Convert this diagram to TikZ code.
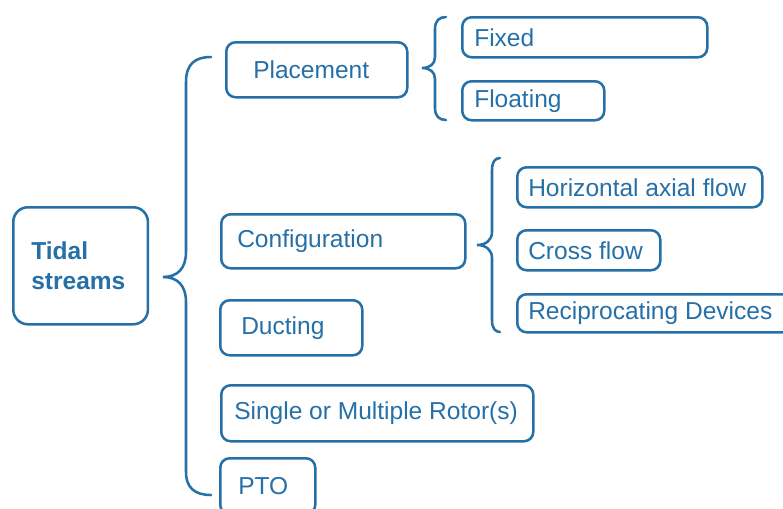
\documentclass[tikz,border=0pt]{standalone}
\usepackage{fontspec}
\setmainfont{Liberation Sans}
\definecolor{tideblue}{RGB}{38,112,168}
% one-line label of fixed width, set flush left
\newcommand{\boxtext}[2]{\makebox[#1][l]{#2}}
\begin{document}
\begin{tikzpicture}[x=0.75pt,y=-0.75pt,
  box/.style={draw=tideblue, line width=1.9pt, rounded corners=7pt,
    text=tideblue, anchor=north west, inner ysep=0pt,
    font=\fontsize{18.4}{22.5}\selectfont},
  brace/.style={draw=tideblue, line width=1.9pt, line cap=round}]
\clip (0,0) rectangle (783,508);
\fill[white] (0,0) rectangle (783,508);

% root
\node[box, rounded corners=11pt, align=left, font=\bfseries\fontsize{18.4}{22.5}\selectfont,
  inner xsep=13.5pt, text width=74pt, minimum height=87.75pt] (tidal) at (12,206) {Tidal\\streams};

% first level
\node[box, inner xsep=20.25pt, minimum height=41.25pt] (place) at (225,41) {\boxtext{95.25pt}{Placement}};
\node[box, inner xsep=12pt, minimum height=40.5pt] (config) at (220,213) {\boxtext{159pt}{Configuration}};
\node[box, inner xsep=15.75pt, minimum height=41.25pt] (duct) at (219,299) {\boxtext{75pt}{Ducting}};
\node[box, inner xsep=9.75pt, minimum height=42pt] (rotor) at (220,384) {\boxtext{214.5pt}{Single or Multiple Rotor(s)}};
\node[box, inner xsep=13.5pt, minimum height=42pt] (pto) at (219,457) {\boxtext{44.25pt}{PTO}};

% placement options
\node[box, inner xsep=9pt, minimum height=30pt] (fixed) at (461,16) {\boxtext{165.75pt}{Fixed}};
\node[box, inner xsep=9pt, minimum height=29.25pt] (float) at (461,80) {\boxtext{88.5pt}{Floating}};

% configuration options
\node[box, inner xsep=8.25pt, minimum height=30pt] (hax) at (516,166) {\boxtext{167.25pt}{Horizontal axial flow}};
\node[box, inner xsep=8.25pt, minimum height=30pt] (cross) at (516,229) {\boxtext{90.75pt}{Cross flow}};
\node[box, inner xsep=8.25pt, minimum height=28.5pt] (recip) at (516,293) {\boxtext{195pt}{Reciprocating Devices}};

% braces
\draw[brace] (211,57) .. controls (195,57) and (186,64) .. (186,82)
  -- (186,252) .. controls (186,268) and (178,277) .. (163,277)
  .. controls (178,277) and (186,286) .. (186,302)
  -- (186,472) .. controls (186,488) and (195,495) .. (211,495);
\draw[brace] (446,17) .. controls (439,17) and (435,21) .. (435,29)
  -- (435,57) .. controls (435,64) and (430,68) .. (422,68)
  .. controls (430,68) and (435,72) .. (435,79)
  -- (435,108) .. controls (435,116) and (439,120) .. (446,120);
\draw[brace] (500,158) .. controls (495,158) and (492,162) .. (492,170)
  -- (492,232) .. controls (492,240) and (486,245) .. (477,245)
  .. controls (486,245) and (492,250) .. (492,258)
  -- (492,320) .. controls (492,328) and (495,332) .. (500,332);
\end{tikzpicture}
\end{document}
